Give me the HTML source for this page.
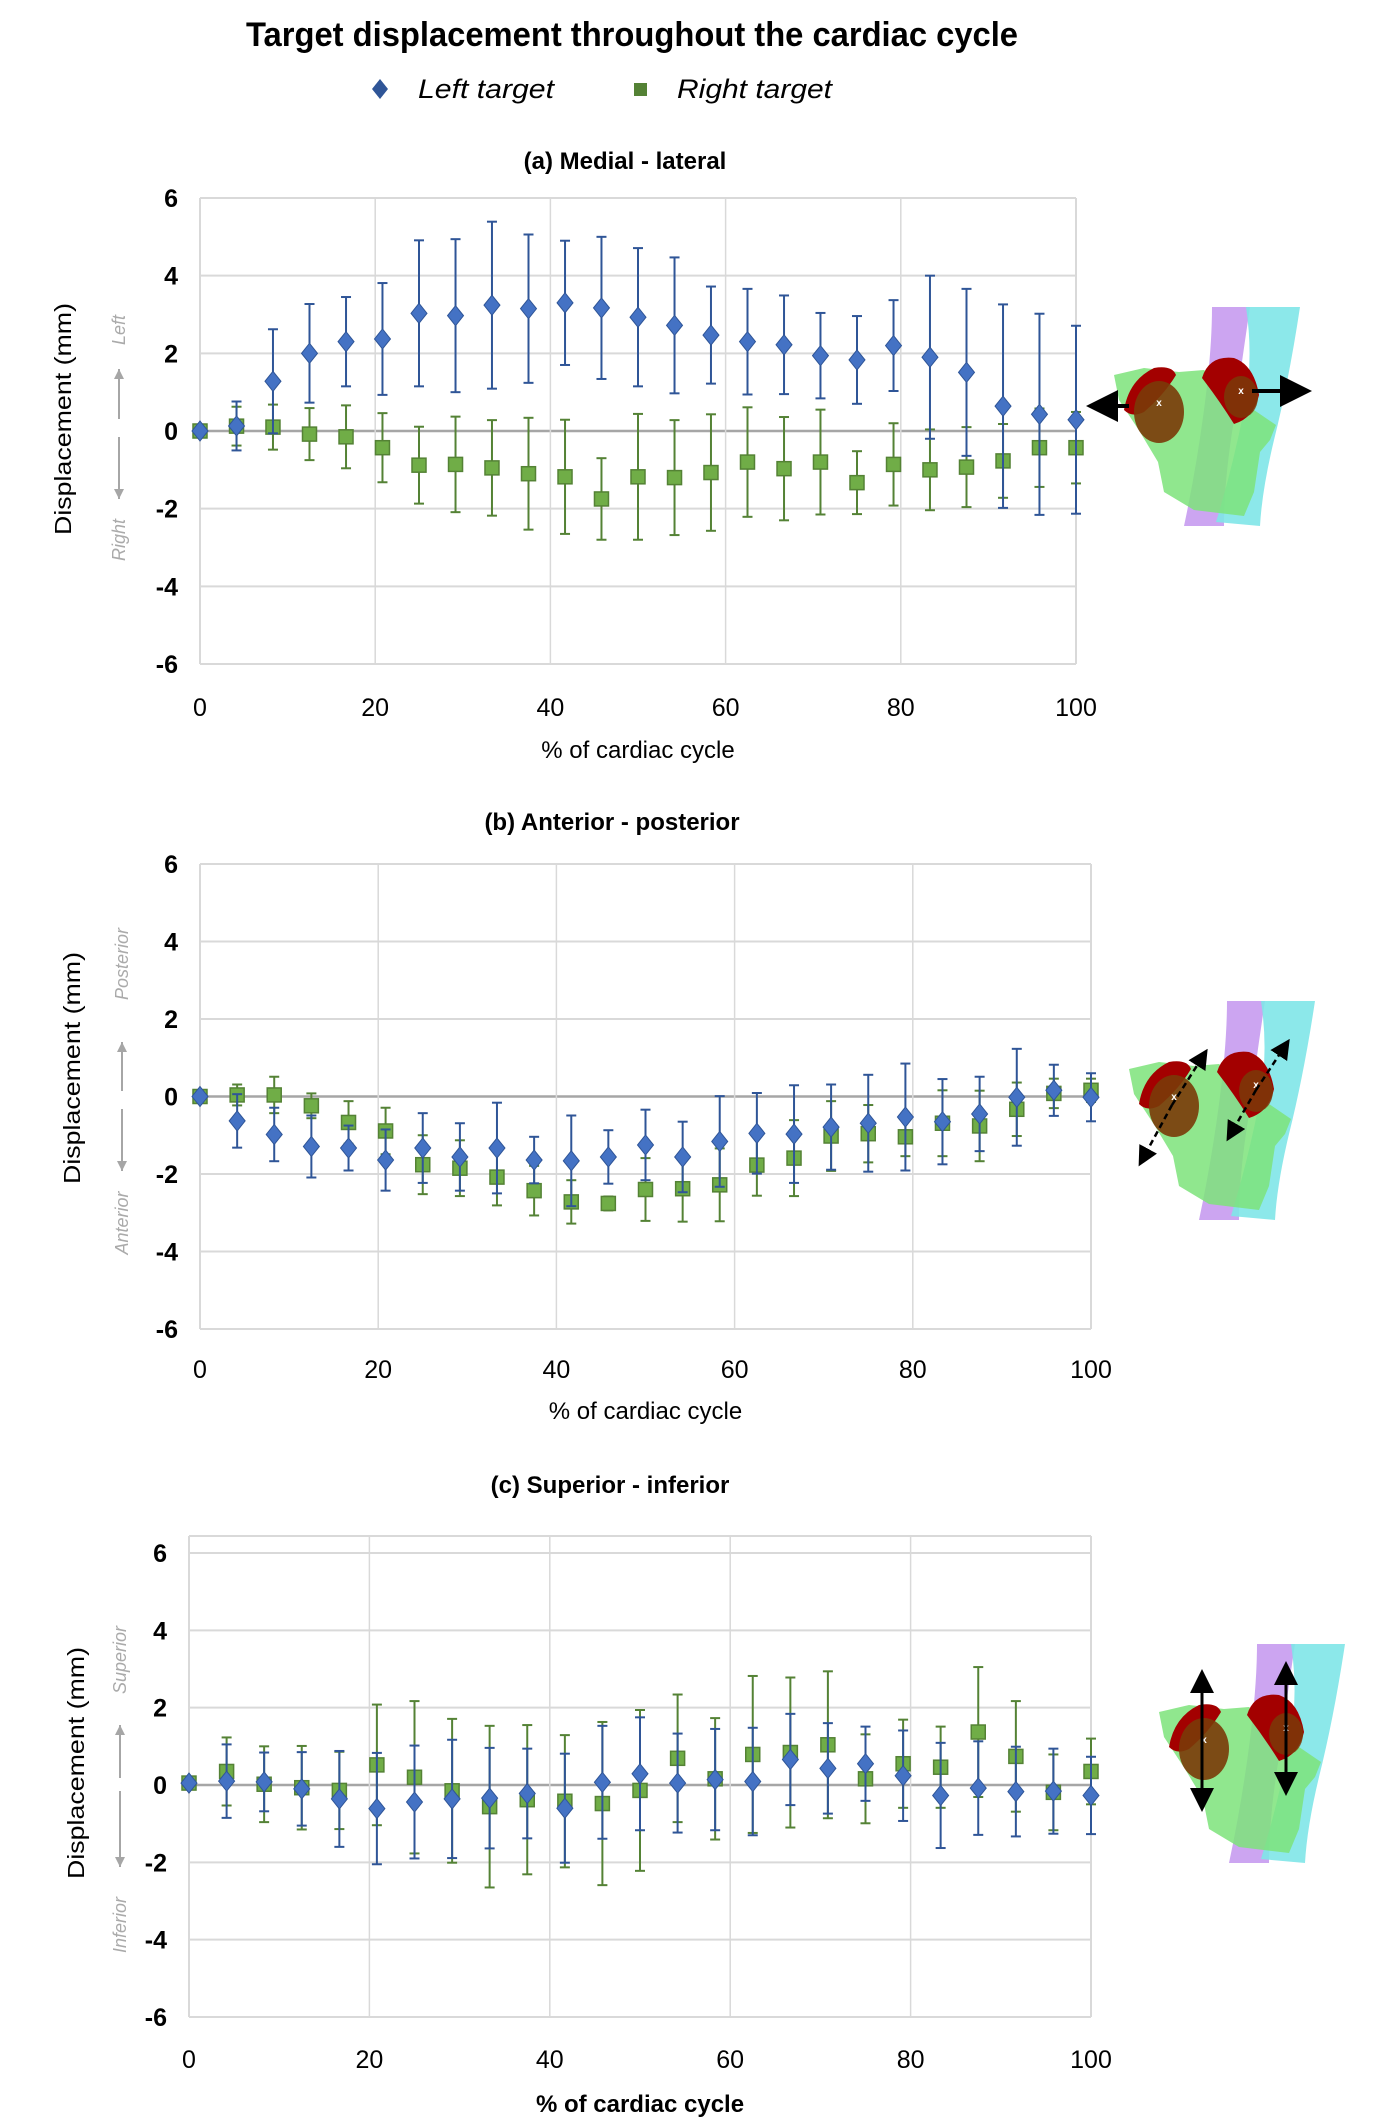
<!DOCTYPE html>
<html><head><meta charset="utf-8"><style>
html,body{margin:0;padding:0;background:#fff;}
svg{display:block;font-family:"Liberation Sans",sans-serif;}
</style></head><body>
<svg id="chart" width="1391" height="2127" viewBox="0 0 1391 2127" xmlns="http://www.w3.org/2000/svg">
<defs>
<g id="heart">
<path d="M128,7 L166,7 Q158,60 150,120 Q140,180 140,226 L100,226 Q112,170 120,110 Q128,50 128,7Z" fill="#c79bf0" opacity="0.9"/>
<path d="M162,7 L216,7 Q205,80 190,140 Q178,190 176,226 L132,222 Q148,170 160,110 Q170,60 162,7Z" fill="#7fe6e8" opacity="0.9"/>
<path d="M30,75 L60,68 L95,72 L120,70 L170,110 L192,125 L186,140 L176,152 L170,192 L160,216 L110,210 L80,192 L74,162 L56,132 L35,100Z" fill="#7de37a" opacity="0.85"/>
<path d="M40,110 Q45,80 70,68 Q88,65 92,75 Q80,95 60,112 Q48,118 40,110Z" fill="#a30000"/>
<path d="M118,78 Q125,55 150,58 Q170,65 175,95 Q170,118 150,124 Q135,100 118,78Z" fill="#a30000"/>
<ellipse cx="75" cy="112" rx="25" ry="31" fill="#7a3a08" opacity="0.9"/>
<ellipse cx="157" cy="97" rx="17" ry="21" fill="#7a3a08" opacity="0.85"/>
<text x="75" y="106" font-size="10" fill="#fff" text-anchor="middle" font-weight="bold">x</text>
<text x="157" y="94" font-size="10" fill="#fff" text-anchor="middle" font-weight="bold">x</text>
</g>
<marker id="ah" markerWidth="8" markerHeight="8" refX="6" refY="4" orient="auto" markerUnits="strokeWidth"><path d="M0,0 L8,4 L0,8Z" fill="#000"/></marker>
</defs>

<text x="632" y="46" font-size="34" font-weight="bold" text-anchor="middle" textLength="772" lengthAdjust="spacingAndGlyphs">Target displacement throughout the cardiac cycle</text>
<g>
  <g>
    <path d="M380,79 L388,89 L380,99 L372,89Z" fill="#2f5597"/>
    <text x="418" y="98" font-size="27" font-style="italic" textLength="136" lengthAdjust="spacingAndGlyphs">Left target</text>
  </g>
  <g>
    <rect x="634" y="83" width="13" height="13" fill="#548235"/>
    <text x="677" y="98" font-size="27" font-style="italic" textLength="155" lengthAdjust="spacingAndGlyphs">Right target</text>
  </g>
</g>

<use href="#heart" transform="translate(1084,300)"/>
<line x1="1129" y1="406" x2="1094" y2="406" stroke="#000" stroke-width="4" marker-end="url(#ah)"/>
<line x1="1252" y1="391" x2="1304" y2="391" stroke="#000" stroke-width="4" marker-end="url(#ah)"/>

<use href="#heart" transform="translate(1099,994)"/>
<line x1="1172" y1="1105" x2="1205" y2="1053" stroke="#000" stroke-width="2.5" stroke-dasharray="6,4" marker-end="url(#ah)"/>
<line x1="1172" y1="1105" x2="1141" y2="1162" stroke="#000" stroke-width="2.5" stroke-dasharray="6,4" marker-end="url(#ah)"/>
<line x1="1256" y1="1090" x2="1287" y2="1043" stroke="#000" stroke-width="2.5" stroke-dasharray="6,4" marker-end="url(#ah)"/>
<line x1="1256" y1="1090" x2="1229" y2="1137" stroke="#000" stroke-width="2.5" stroke-dasharray="6,4" marker-end="url(#ah)"/>

<use href="#heart" transform="translate(1129,1637)"/>
<line x1="1202" y1="1740" x2="1202" y2="1675" stroke="#000" stroke-width="3" marker-end="url(#ah)"/>
<line x1="1202" y1="1740" x2="1202" y2="1806" stroke="#000" stroke-width="3" marker-end="url(#ah)"/>
<line x1="1286" y1="1728" x2="1286" y2="1667" stroke="#000" stroke-width="3" marker-end="url(#ah)"/>
<line x1="1286" y1="1728" x2="1286" y2="1790" stroke="#000" stroke-width="3" marker-end="url(#ah)"/>
</svg>
<script>
const xValues = [0,4.17,8.33,12.5,16.67,20.83,25,29.17,33.33,37.5,41.67,45.83,50,54.17,58.33,62.5,66.67,70.83,75,79.17,83.33,87.5,91.67,95.83,100];
const xTicks = [0,20,40,60,80,100];
const yTicks = [6,4,2,0,-2,-4,-6];

const leftA    = [0,0.13,1.28,2.0,2.3,2.37,3.03,2.97,3.24,3.15,3.3,3.17,2.93,2.72,2.47,2.3,2.22,1.94,1.83,2.2,1.9,1.51,0.64,0.43,0.29];
const leftAErr = [0.05,0.63,1.34,1.27,1.15,1.44,1.88,1.97,2.15,1.91,1.6,1.83,1.78,1.75,1.25,1.36,1.27,1.1,1.13,1.17,2.1,2.15,2.62,2.59,2.42];
const rightA    = [0,0.125,0.1,-0.08,-0.15,-0.43,-0.88,-0.86,-0.95,-1.1,-1.18,-1.75,-1.18,-1.2,-1.07,-0.8,-0.97,-0.8,-1.33,-0.86,-1.0,-0.93,-0.77,-0.43,-0.43];
const rightAErr = [0.05,0.5,0.58,0.67,0.81,0.89,0.99,1.23,1.23,1.44,1.47,1.05,1.62,1.48,1.5,1.41,1.33,1.35,0.81,1.06,1.04,1.03,0.95,1.01,0.92];

const leftB    = [0,-0.63,-0.98,-1.29,-1.33,-1.64,-1.33,-1.56,-1.33,-1.64,-1.66,-1.56,-1.25,-1.56,-1.16,-0.95,-0.97,-0.79,-0.69,-0.53,-0.65,-0.45,-0.02,0.16,-0.02];
const leftBErr = [0.05,0.69,0.69,0.8,0.58,0.79,0.9,0.87,1.17,0.6,1.17,0.69,0.91,0.91,1.17,1.04,1.26,1.1,1.25,1.38,1.1,0.96,1.25,0.66,0.62];
const rightB    = [0,0.04,0.04,-0.24,-0.67,-0.89,-1.76,-1.85,-2.08,-2.43,-2.72,-2.76,-2.4,-2.38,-2.28,-1.77,-1.59,-1.02,-0.96,-1.04,-0.69,-0.76,-0.33,0.08,0.16];
const rightBErr = [0.05,0.27,0.47,0.32,0.55,0.6,0.76,0.72,0.73,0.64,0.56,0.18,0.81,0.85,0.94,0.79,0.98,0.9,0.74,0.5,0.85,0.91,0.69,0.38,0.3];

const leftC    = [0.05,0.1,0.08,-0.1,-0.36,-0.61,-0.44,-0.36,-0.34,-0.22,-0.6,0.07,0.29,0.05,0.14,0.09,0.66,0.43,0.55,0.24,-0.27,-0.08,-0.17,-0.16,-0.27];
const leftCErr = [0.05,0.95,0.76,0.95,1.24,1.44,1.46,1.53,1.3,1.16,1.41,1.46,1.46,1.28,1.31,1.39,1.18,1.17,0.96,1.17,1.36,1.21,1.16,1.1,1.0];
const rightC    = [0.05,0.35,0.02,-0.07,-0.14,0.52,0.2,-0.15,-0.56,-0.38,-0.42,-0.48,-0.14,0.69,0.16,0.79,0.84,1.04,0.16,0.55,0.46,1.37,0.74,-0.19,0.35];
const rightCErr = [0.05,0.88,0.98,1.08,1.0,1.56,1.97,1.86,2.09,1.93,1.71,2.11,2.08,1.65,1.57,2.03,1.94,1.9,1.15,1.14,1.05,1.68,1.43,0.98,0.85];

const panels = [
 {id:'a', title:'(a) Medial - lateral', tb:false, x0:200, x1:1076, yt:198, yb:664, ft:198, titleX:625, titleY:169, tickY:716, xtY:758, ylabR:178, ytX:63, ytY:419,
  up:'Left', dn:'Right', dirX:119, upY:330, dnY:540, a1:[419,369], a2:[437,499], left:leftA, leftErr:leftAErr, right:rightA, rightErr:rightAErr},
 {id:'b', title:'(b) Anterior - posterior', tb:false, x0:200, x1:1091, yt:864, yb:1329, ft:864, titleX:612, titleY:830, tickY:1378, xtY:1419, ylabR:178, ytX:72, ytY:1068,
  up:'Posterior', dn:'Anterior', dirX:122, upY:964, dnY:1223, a1:[1091,1042], a2:[1109,1171], left:leftB, leftErr:leftBErr, right:rightB, rightErr:rightBErr},
 {id:'c', title:'(c) Superior - inferior', tb:true, x0:189, x1:1091, yt:1553, yb:2017, ft:1536, titleX:610, titleY:1493, tickY:2068, xtY:2112, ylabR:167, ytX:76, ytY:1763,
  up:'Superior', dn:'Inferior', dirX:120, upY:1660, dnY:1925, a1:[1778,1725], a2:[1791,1867], left:leftC, leftErr:leftCErr, right:rightC, rightErr:rightCErr}
];
const NS='http://www.w3.org/2000/svg';
const svg=document.getElementById('chart');
function mk(tag, attrs, parent, text){
  const e=document.createElementNS(NS,tag);
  for(const k in attrs) e.setAttribute(k,attrs[k]);
  if(text!==undefined) e.textContent=text;
  (parent||svg).appendChild(e); return e;
}
panels.forEach(p=>{
  const g=mk('g',{});
  
  
  const xs=v=>p.x0+(v/100)*(p.x1-p.x0);
  const ys=v=>p.yt+(6-v)/12*(p.yb-p.yt);
  const t=mk('text',{x:p.titleX,y:p.titleY,'font-size':24,'font-weight':'bold','text-anchor':'middle'},g,p.title);
  
  
  if(p.ft<p.yt){
    const fr=mk('line',{x1:p.x0,x2:p.x1,y1:p.ft,y2:p.ft,stroke:'#d9d9d9','stroke-width':2},g);
    
    
  }
  yTicks.forEach(v=>{
    const l=mk('line',{x1:p.x0,x2:p.x1,y1:ys(v),y2:ys(v),stroke:v===0?'#a6a6a6':'#d9d9d9','stroke-width':v===0?2.5:2},g);
    
    
    const tl=mk('text',{x:p.ylabR,y:ys(v)+9,'font-size':25,'font-weight':'bold','text-anchor':'end'},g,String(v));
    
    
  });
  xTicks.forEach(v=>{
    const l=mk('line',{x1:xs(v),x2:xs(v),y1:p.ft,y2:p.yb,stroke:'#d9d9d9','stroke-width':v===0||v===100?2:1.5},g);
    
    
    const tl=mk('text',{x:xs(v),y:p.tickY,'font-size':25,'text-anchor':'middle'},g,String(v));
    
    
  });
  const xt=mk('text',{x:(p.x0+p.x1)/2,y:p.xtY,'font-size':24,'font-weight':p.tb?'bold':'normal','text-anchor':'middle'},g,'% of cardiac cycle');
  
  
  const yt=mk('text',{x:0,y:0,'font-size':23,'text-anchor':'middle',textLength:232,lengthAdjust:'spacingAndGlyphs',transform:`translate(${p.ytX+8},${p.ytY}) rotate(-90)`},g,'Displacement (mm)');
  
  
  const u=mk('text',{x:0,y:0,'font-size':18,'font-style':'italic',fill:'#aaaaaa','text-anchor':'middle',transform:`translate(${p.dirX+6},${p.upY}) rotate(-90)`},g,p.up);
  
  
  const d=mk('text',{x:0,y:0,'font-size':18,'font-style':'italic',fill:'#aaaaaa','text-anchor':'middle',transform:`translate(${p.dirX+6},${p.dnY}) rotate(-90)`},g,p.dn);
  
  
  [p.a1,p.a2].forEach(a=>{
    mk('line',{x1:p.dirX,x2:p.dirX,y1:a[0],y2:a[1],stroke:'#a6a6a6','stroke-width':2},g);
    const dir=a[1]<a[0]?-1:1;
    mk('path',{d:`M${p.dirX-5},${a[1]-dir*10} L${p.dirX+5},${a[1]-dir*10} L${p.dirX},${a[1]}Z`,fill:'#a6a6a6'},g);
  });
  const series=[{name:'right',vals:p.right,err:p.rightErr,col:'#70ad47',edge:'#548235'},
                {name:'left',vals:p.left,err:p.leftErr,col:'#4472c4',edge:'#2f5597'}];
  series.forEach(s=>{
    const sg=mk('g',{},g);
    
    
    s.vals.forEach((v,i)=>{
      const cx=xs(xValues[i]), cy=ys(v), e=s.err[i];
      const hi=ys(v+e), lo=ys(v-e);
      const eb=mk('g',{stroke:s.edge,'stroke-width':2},sg);
      
      
      mk('line',{x1:cx,x2:cx,y1:hi,y2:lo},eb);
      mk('line',{x1:cx-5,x2:cx+5,y1:hi,y2:hi},eb);
      mk('line',{x1:cx-5,x2:cx+5,y1:lo,y2:lo},eb);
      let m;
      if(s.name==='left'){
        m=mk('path',{d:`M${cx},${cy-10} L${cx+8},${cy} L${cx},${cy+10} L${cx-8},${cy}Z`,fill:s.col,stroke:s.edge,'stroke-width':1},sg);
      } else {
        m=mk('rect',{x:cx-7,y:cy-7,width:14,height:14,fill:s.col,stroke:s.edge,'stroke-width':1.5},sg);
      }
      
      
    });
  });
});
</script>
</body></html>
